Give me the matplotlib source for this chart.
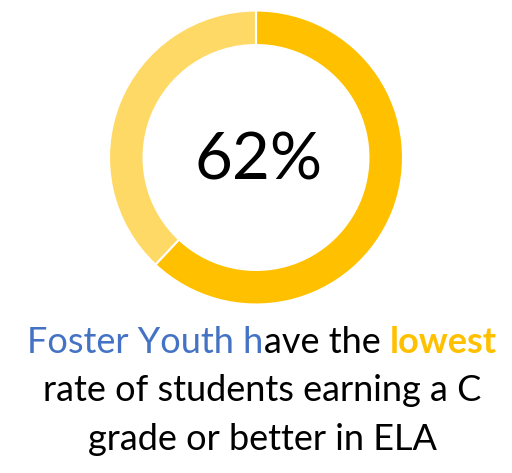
import matplotlib
matplotlib.use("Agg")
import matplotlib.pyplot as plt

# data
share_labels = ["C or better", "Other"]
share_values = [62, 38]
share_colors = ["#FFC000", "#FFD966"]
center_label = "62%"

caption_line1 = [("Foster Youth h", "#4472C4", "normal"),
                 ("ave the ", "black", "normal"),
                 ("lowest", "#FFC000", "bold")]
caption_rest = ["rate of students earning a C", "grade or better in ELA"]

FONT = "Lato"

fig = plt.figure(figsize=(5.12, 4.73), dpi=100)
W, H = 512, 473

# donut: center (256, 157), outer radius ~147 px
cx, cy, r = 256, 157.5, 147
ax = fig.add_axes([(cx - r) / W, 1 - (cy + r) / H, 2 * r / W, 2 * r / H])
ax.pie(share_values, colors=share_colors, startangle=90, counterclock=False,
       radius=1.0, wedgeprops={"width": 0.235, "edgecolor": "white", "linewidth": 1.5})
ax.set_xlim(-1, 1)
ax.set_ylim(-1, 1)
ax.set_aspect("equal")
ax.axis("off")
ax.text(0.02, (cy - 180) / r, center_label, ha="center", va="baseline", fontsize=47,
        family=FONT, color="black")

renderer = fig.canvas.get_renderer()

# first caption line with mixed colours, centered at x~262
fs = 26
y1 = 1 - 353 / H
pieces = []
x = 0.0
for txt, col, wt in caption_line1:
    t = fig.text(x, y1, txt, color=col, fontsize=fs, family=FONT, weight=wt,
                 ha="left", va="baseline")
    w = t.get_window_extent(renderer).width
    pieces.append((t, x))
    x += w / W
total = x
start = 262 / W - total / 2
for t, off in pieces:
    t.set_x(start + off)

for i, line in enumerate(caption_rest):
    fig.text(262 / W, 1 - (401 + 49 * i) / H, line, ha="center", va="baseline",
             fontsize=fs, family=FONT, color="black")

fig.savefig("out.png", dpi=100)
